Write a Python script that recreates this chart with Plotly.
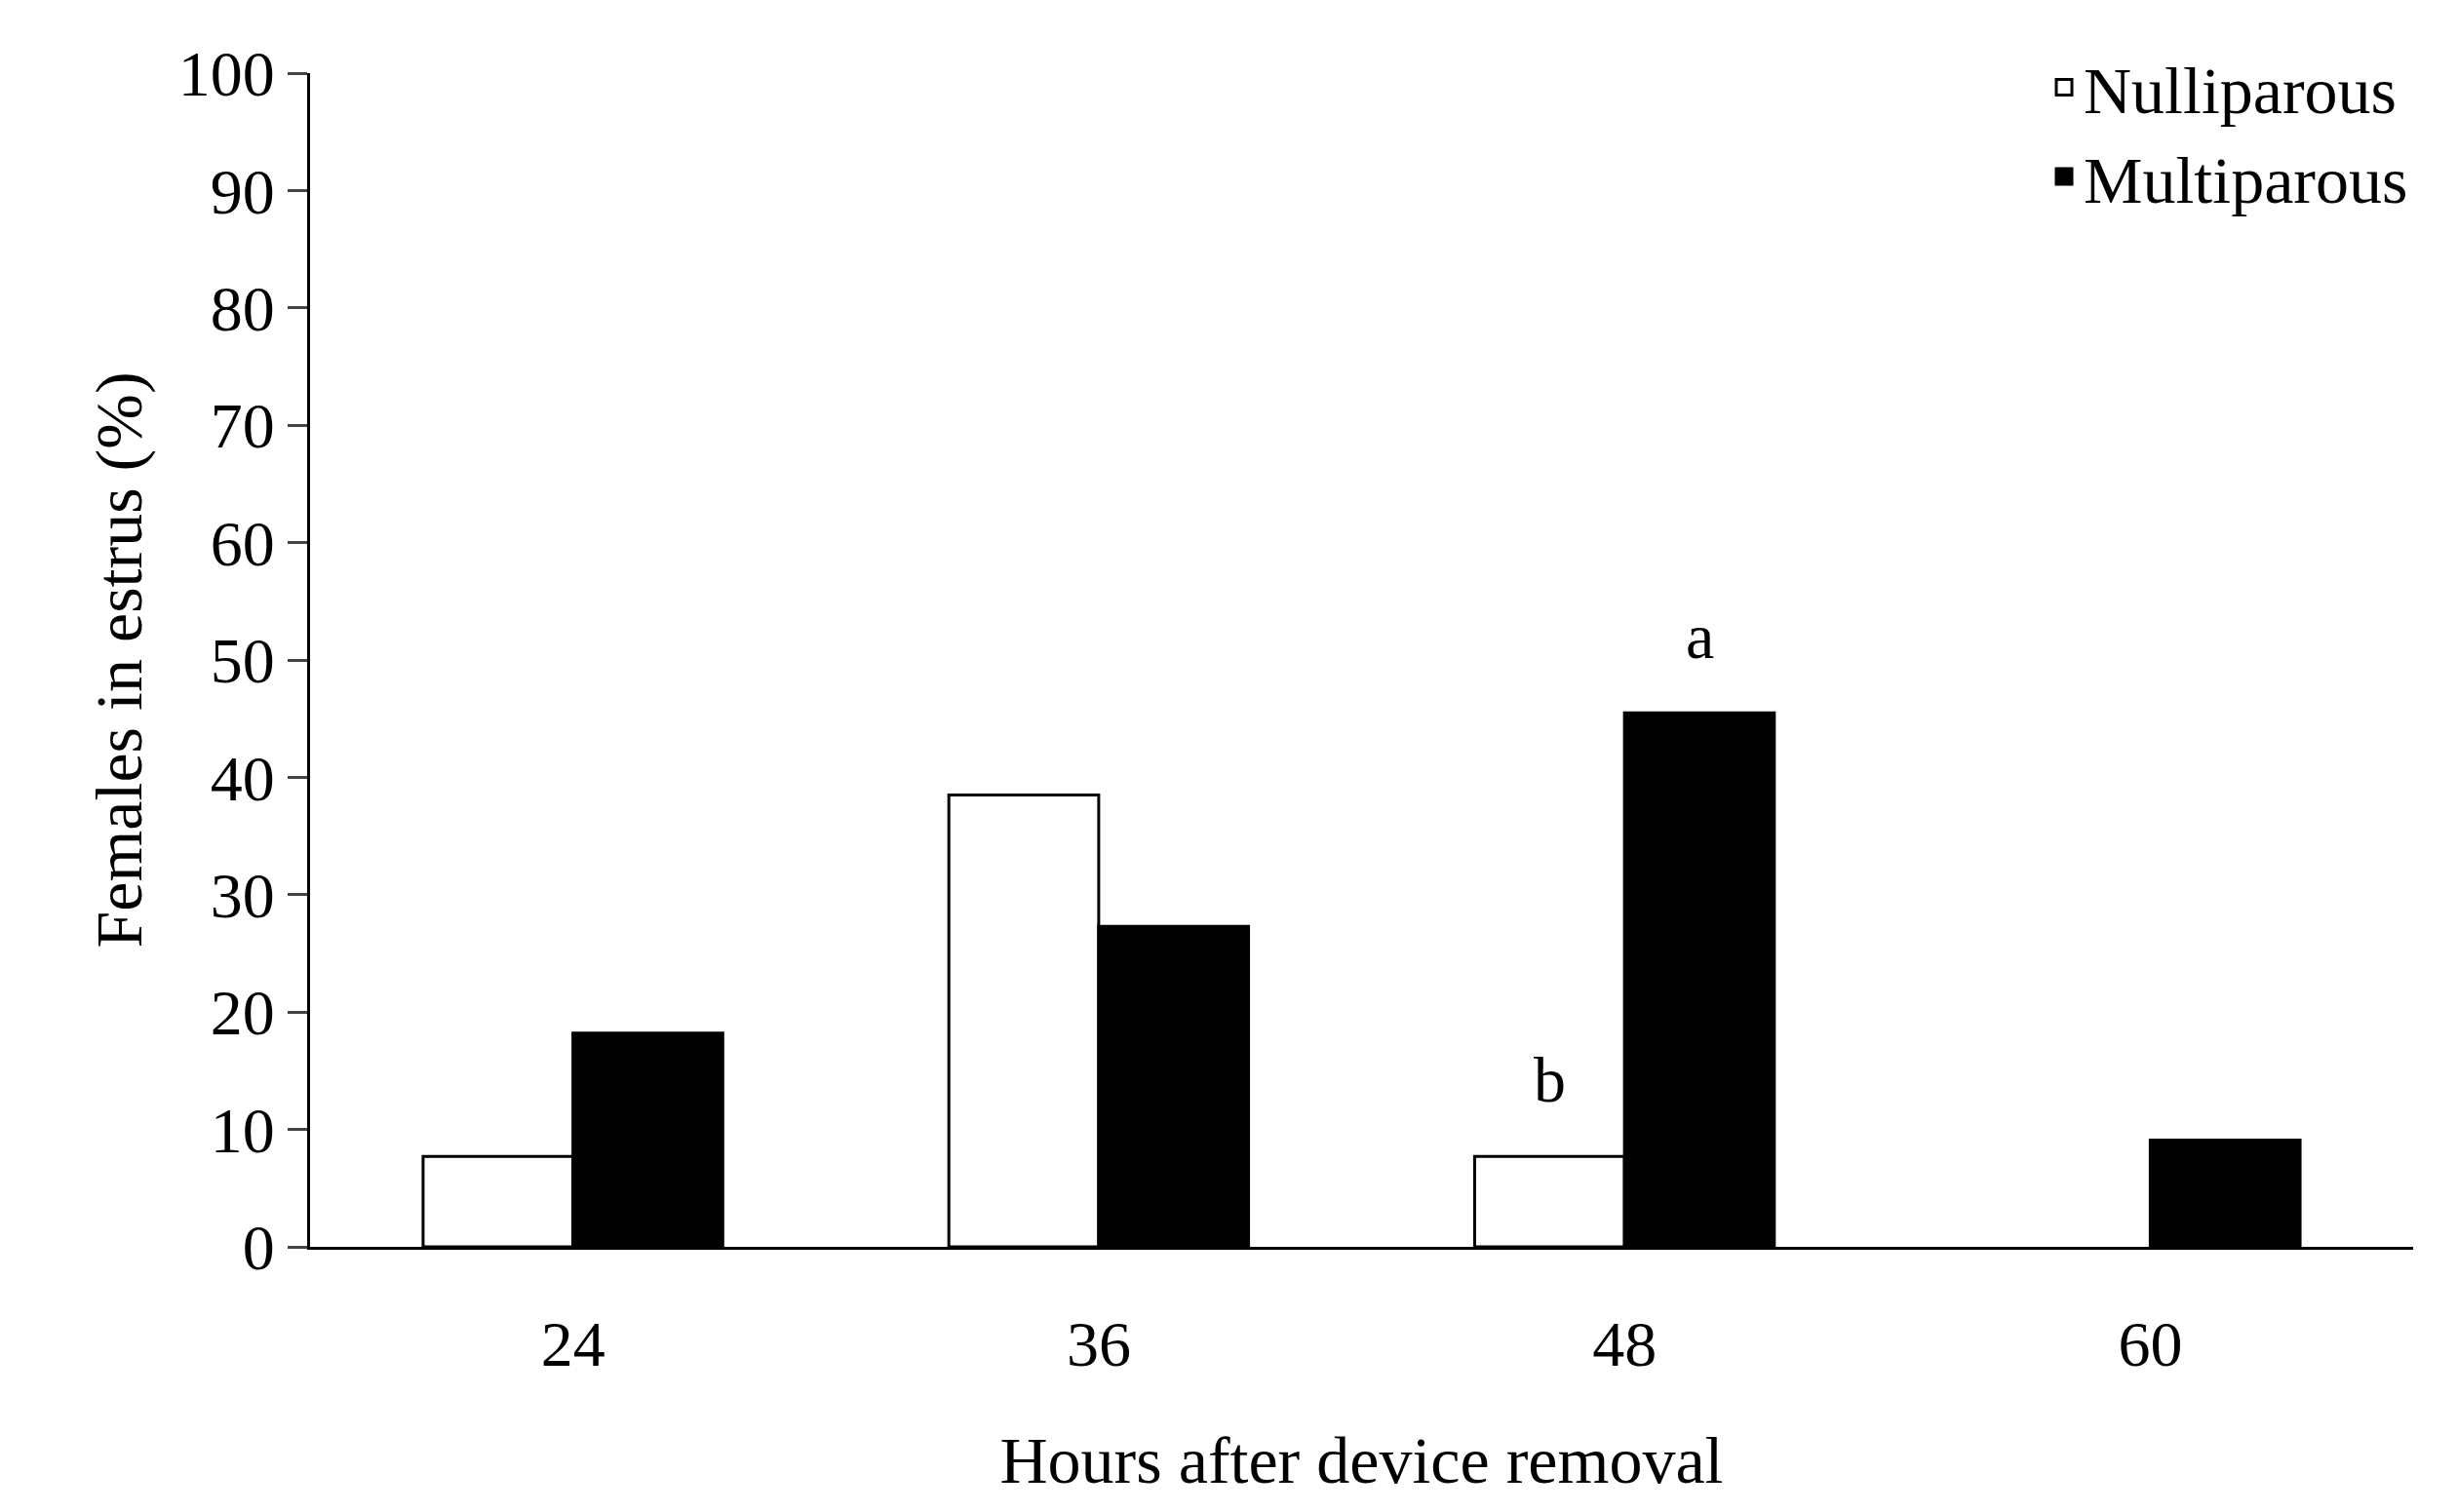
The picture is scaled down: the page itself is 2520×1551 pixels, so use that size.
import plotly.graph_objects as go

hours = ["24", "36", "48", "60"]
nulliparous = [7.7, 38.5, 7.7, 0]
multiparous = [18.2, 27.3, 45.5, 9.1]
yticks = [0, 10, 20, 30, 40, 50, 60, 70, 80, 90, 100]

font = "Liberation Serif"
fig = go.Figure()
fig.add_bar(x=hours, y=nulliparous, name="Nulliparous", showlegend=False,
            marker=dict(color="white", line=dict(color="black", width=[3 if v > 0 else 0 for v in nulliparous])))
fig.add_bar(x=hours, y=multiparous, name="Multiparous", showlegend=False,
            marker=dict(color="black", line=dict(color="black", width=3)))
fig.add_scatter(x=[None], y=[None], mode="markers", name="Nulliparous",
                marker=dict(symbol="square", size=40, color="white", line=dict(color="black", width=3)))
fig.add_scatter(x=[None], y=[None], mode="markers", name="Multiparous",
                marker=dict(symbol="square", size=40, color="black", line=dict(color="black", width=3)))
fig.add_annotation(x=2, y=45.5, text="a", showarrow=False, yanchor="bottom", yshift=40, xshift=77,
                   font=dict(size=66, family=font, color="black"))
fig.add_annotation(x=2, y=7.7, text="b", showarrow=False, yanchor="bottom", yshift=40, xshift=-77,
                   font=dict(size=66, family=font, color="black"))
fig.update_layout(
    width=2520, height=1551, plot_bgcolor="white", paper_bgcolor="white",
    margin=dict(l=310, r=53, t=67, b=280),
    barmode="group", bargap=0.43, bargroupgap=0,
    font=dict(family=font, size=66, color="black"),
    legend=dict(x=1.0, y=1.03, xanchor="right", yanchor="top",
                font=dict(size=68, family=font), tracegroupgap=40, itemwidth=30),
    xaxis=dict(range=[-0.5, 3.5], showline=True, linecolor="black", linewidth=3,
               ticks="", tickfont=dict(size=66), ticklabelstandoff=40,
               title=dict(text="Hours after device removal", font=dict(size=68), standoff=60)),
    yaxis=dict(range=[0, 100], tickvals=yticks, showline=True, linecolor="black", linewidth=3,
               ticks="outside", ticklen=20, tickwidth=3, showgrid=False, zeroline=False,
               tickfont=dict(size=66),
               title=dict(text="Females in estrus (%)", font=dict(size=68), standoff=15)),
)
fig.write_html("out.html")
